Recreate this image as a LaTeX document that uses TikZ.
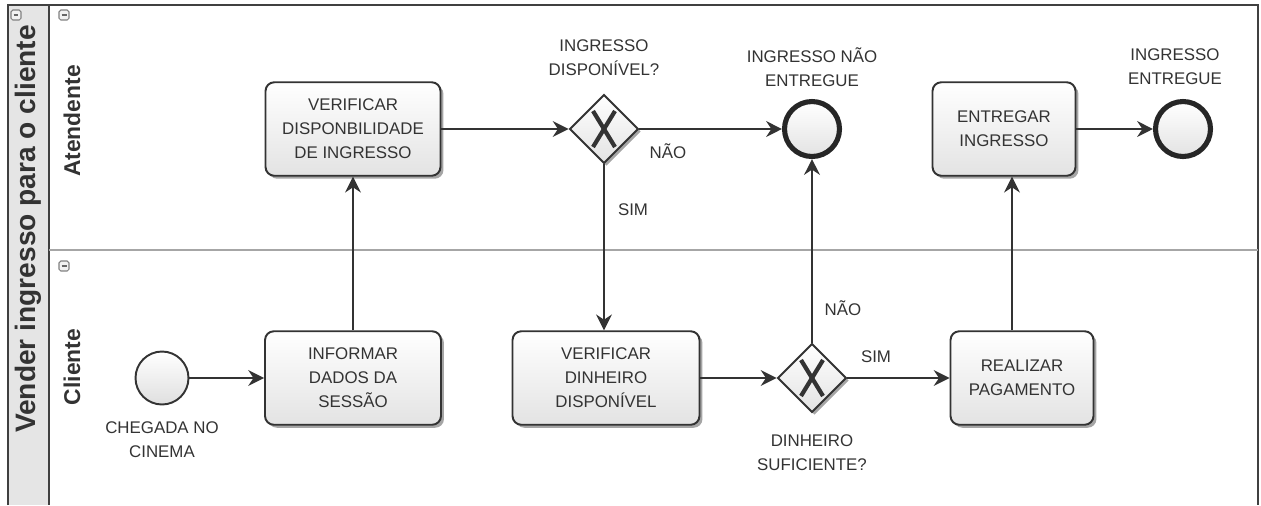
\documentclass[tikz,border=0pt]{standalone}
\usepackage{fontspec}
\setmainfont{Liberation Sans}
\usetikzlibrary{shapes}
\usetikzlibrary{shapes.geometric}
\usetikzlibrary{positioning}
\usetikzlibrary{arrows.meta}
\usetikzlibrary{shadows}
\definecolor{lineg}{HTML}{333333}
\tikzset{
    mytask/.style = {rectangle, rounded corners=5pt, line width=1.1pt, draw=lineg, top color=white, bottom color=gray!22, align=center, font={\fontsize{9.6}{13.6}\selectfont}, text=lineg, minimum height=1.87cm, drop shadow={shadow xshift=0.06cm, shadow yshift=-0.06cm, opacity=0.5, fill=black!70}},
    mygate/.style = {diamond, aspect=1, minimum size=1.38cm, inner sep=0pt, line width=1.1pt, draw=lineg, top color=white, bottom color=gray!22, drop shadow={shadow xshift=0.05cm, shadow yshift=-0.05cm, opacity=0.5, fill=black!70},
      path picture={
        \draw[line width=2.4pt, lineg] ([shift={(-0.22cm,-0.36cm)}]path picture bounding box.center) -- ([shift={(0.22cm,0.36cm)}]path picture bounding box.center);
        \draw[line width=2.4pt, lineg] ([shift={(-0.22cm,0.36cm)}]path picture bounding box.center) -- ([shift={(0.22cm,-0.36cm)}]path picture bounding box.center);}},
    mystart/.style = {circle, minimum size=1.06cm, inner sep=0pt, line width=1.1pt, draw=lineg, top color=white, bottom color=gray!25},
    myend/.style = {circle, minimum size=1.1cm, inner sep=0pt, line width=2.9pt, draw=black!85, top color=white, bottom color=gray!22},
    mytext/.style = {align=center, inner sep=1pt, text=lineg, font={\fontsize{9.6}{13.6}\selectfont}},
    lanetext/.style = {rotate=90, text=lineg, font={\fontsize{13}{15}\selectfont\bfseries}},
    minusbox/.style = {rectangle, rounded corners=1pt, draw=gray, line width=0.6pt, minimum size=0.2cm, inner sep=0pt, fill=gray!10,
      path picture={\draw[gray!80!black, line width=0.6pt] ([xshift=-0.05cm]path picture bounding box.center) -- ([xshift=0.05cm]path picture bounding box.center);}},
    edgef/.style = {-{Stealth[length=9pt,width=9pt,inset=3pt]}, line width=1.1pt, lineg}
}

\begin{document}
\begin{tikzpicture}[x=0.02cm, y=-0.02cm]
  \useasboundingbox (0,0) rectangle (1261,505);
  % pool and lanes
  \fill[gray!20] (8,5) rectangle (49,505);
  \draw[line width=1.2pt, black!75] (8,505) -- (8,5) -- (1258,5) -- (1258,505);
  \draw[line width=1.2pt, black!75] (49,5) -- (49,505);
  \draw[line width=0.8pt, gray!70] (49,250) -- (1258,250);
  \node[lanetext, font={\fontsize{16}{18}\selectfont\bfseries}] (pool) at (28,229) {Vender ingresso para o cliente};
  \node[lanetext] (lanea) at (72,121) {Atendente};
  \node[lanetext] (lanec) at (72,367) {Cliente};
  \node[minusbox] (mb0) at (16,15) {};
  \node[minusbox] (mb1) at (64,15) {};
  \node[minusbox] (mb2) at (64,266) {};

  \node[mystart] (start) at (162,378) {};
  \node[mytext, below=0.28cm of start] (startl) {CHEGADA NO\\CINEMA};
  \node[mytask, minimum width=3.52cm] (inf) at (353,378) {INFORMAR\\DADOS DA\\SESSÃO};
  \node[mytask, minimum width=3.5cm] (ver) at (353,129) {VERIFICAR\\DISPONBILIDADE\\DE INGRESSO};
  \node[mygate] (g1) at (604,129) {};
  \node[mytext, above=0.32cm of g1] (g1l) {INGRESSO\\DISPONÍVEL?};
  \node[myend] (end1) at (812,129) {};
  \node[mytext, above=0.2cm of end1] (end1l) {INGRESSO NÃO\\ENTREGUE};
  \node[mytask, minimum width=2.86cm] (ent) at (1004,129) {ENTREGAR\\INGRESSO};
  \node[myend] (end2) at (1183,129) {};
  \node[mytext, above=0.25cm of end2, xshift=-0.16cm] (end2l) {INGRESSO\\ENTREGUE};
  \node[mytask, minimum width=3.74cm] (ver2) at (606,378) {VERIFICAR\\DINHEIRO\\DISPONÍVEL};
  \node[mygate] (g2) at (812,378) {};
  \node[mytext, below=0.38cm of g2] (g2l) {DINHEIRO\\SUFICIENTE?};
  \node[mytask, minimum width=2.86cm] (pag) at (1022,378) {REALIZAR\\PAGAMENTO};

  \node[mytext] (nao1) at (668,151) {NÃO};
  \node[mytext] (sim1) at (633,210) {SIM};
  \node[mytext] (nao2) at (843,308) {NÃO};
  \node[mytext] (sim2) at (876,357) {SIM};

  \draw[edgef] (start) -- (inf);
  \draw[edgef] (inf) -- (ver);
  \draw[edgef] (ver) -- (g1);
  \draw[edgef] (g1) -- (end1);
  \draw[edgef] (g1) -- (g1 |- ver2.north);
  \draw[edgef] (ver2) -- (g2);
  \draw[edgef] (g2) -- (end1);
  \draw[edgef] (g2) -- (pag);
  \coordinate (mid) at (1012,250);
  \draw[edgef] (mid |- pag.north) -- (mid |- ent.south);
  \draw[edgef] (ent) -- (end2);
\end{tikzpicture}
\end{document}
